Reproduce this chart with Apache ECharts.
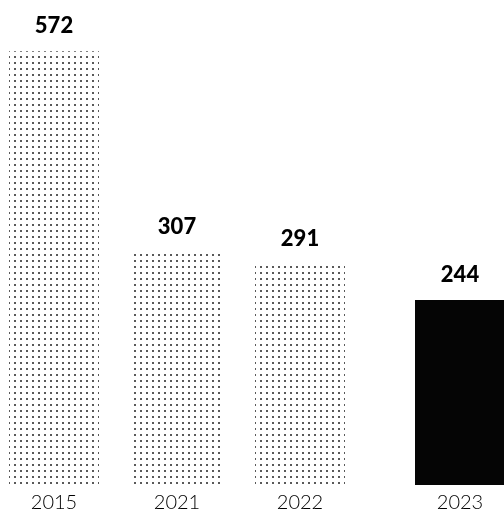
<!DOCTYPE html>
<html>
<head>
<meta charset="utf-8">
<style>
  html, body { margin: 0; padding: 0; background: #fff; }
  #chart { width: 504px; height: 509px; }
</style>
<script src="https://cdn.jsdelivr.net/npm/echarts@6/dist/echarts.min.js"></script>
</head>
<body>
<div id="chart"></div>
<script>
// Earlier years share one axis; the latest year sits apart on its own axis.
const pastYears = ['2015', '2021', '2022'];
const pastValues = [572, 307, 291];
const latestYears = ['2023'];
const latestValues = [244];

// Stippled fill for the earlier bars: a small dot tiled on a white ground.
function dotPattern() {
  const c = document.createElement('canvas');
  c.width = 6; c.height = 6;
  const g = c.getContext('2d');
  g.fillStyle = '#ffffff';
  g.fillRect(0, 0, 6, 6);
  g.fillStyle = '#222222';
  g.beginPath();
  g.arc(3, 3, 1.0, 0, Math.PI * 2);
  g.fill();
  return c;
}

const valueLabel = {
  show: true,
  position: 'top',
  distance: 14,
  fontFamily: 'Lato',
  fontWeight: 900,
  fontSize: 22,
  color: '#000'
};

const catAxis = (grid, data) => ({
  type: 'category',
  gridIndex: grid,
  data: data,
  axisLine: { show: false },
  axisTick: { show: false },
  axisLabel: {
    margin: 8,
    fontFamily: 'Lato',
    fontWeight: 300,
    fontSize: 20,
    color: '#000'
  }
});

const valAxis = (grid) => ({
  type: 'value',
  gridIndex: grid,
  min: 0,
  max: 600,
  show: false
});

const chart = echarts.init(document.getElementById('chart'), null, { renderer: 'canvas' });
chart.setOption({
  animation: false,
  backgroundColor: '#ffffff',
  grid: [
    { left: -7.5, width: 369, top: 30, bottom: 24, containLabel: false, outerBoundsMode: 'none' },
    { left: 398.5, width: 123, top: 30, bottom: 24, containLabel: false, outerBoundsMode: 'none' }
  ],
  xAxis: [catAxis(0, pastYears), catAxis(1, latestYears)],
  yAxis: [valAxis(0), valAxis(1)],
  series: [
    {
      type: 'bar',
      xAxisIndex: 0,
      yAxisIndex: 0,
      data: pastValues,
      barWidth: 90,
      itemStyle: { color: { image: dotPattern(), repeat: 'repeat' } },
      label: valueLabel
    },
    {
      type: 'bar',
      xAxisIndex: 1,
      yAxisIndex: 1,
      data: latestValues,
      barWidth: 90,
      itemStyle: { color: '#050505' },
      label: valueLabel
    }
  ]
});
</script>
</body>
</html>
